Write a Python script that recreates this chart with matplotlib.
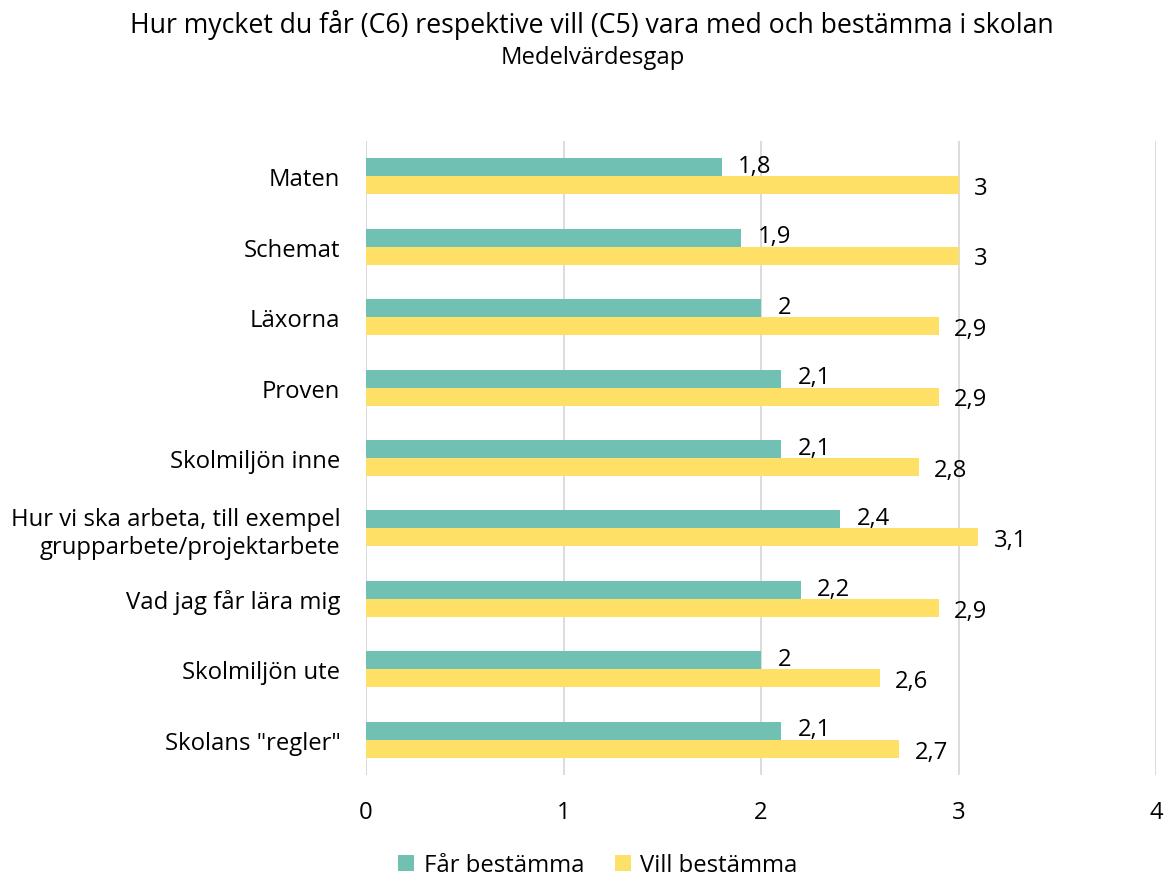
import matplotlib
matplotlib.use("Agg")
import matplotlib.pyplot as plt
import numpy as np

plt.rcParams['font.family'] = ['Open Sans', 'DejaVu Sans']

categories = ["Maten", "Schemat", "Läxorna", "Proven", "Skolmiljön inne",
              "Hur vi ska arbeta, till exempel\ngrupparbete/projektarbete",
              "Vad jag får lära mig", "Skolmiljön ute", 'Skolans "regler"']
far_bestamma = [1.8, 1.9, 2.0, 2.1, 2.1, 2.4, 2.2, 2.0, 2.1]
vill_bestamma = [3.0, 3.0, 2.9, 2.9, 2.8, 3.1, 2.9, 2.6, 2.7]
xticks = [0, 1, 2, 3, 4]

teal = "#70C1B3"
yellow = "#FFE066"
fs = 17.2

fig = plt.figure(figsize=(11.68, 8.79), dpi=100)
ax = fig.add_axes([366/1168, 1-776/879, (1156-366)/1168, (776-142)/879])

n = len(categories)
y = np.arange(n)[::-1].astype(float)
h = 0.255
ax.barh(y + h/2, far_bestamma, height=h, color=teal, label="Får bestämma", zorder=3)
ax.barh(y - h/2, vill_bestamma, height=h, color=yellow, label="Vill bestämma", zorder=3)

def fmt(v):
    s = f"{v:g}"
    return s.replace(".", ",")

for yi, v in zip(y, far_bestamma):
    ax.annotate(fmt(v), (v, yi + h/2), xytext=(12, 1), textcoords="offset points",
                ha="left", va="center", fontsize=fs, color="#000000")
for yi, v in zip(y, vill_bestamma):
    ax.annotate(fmt(v), (v, yi - h/2), xytext=(11, -2), textcoords="offset points",
                ha="left", va="center", fontsize=fs, color="#000000")

ax.set_xlim(0, 4)
ax.set_ylim(-0.5, n - 0.5)
ax.set_xticks(xticks)
ax.set_xticklabels([str(t) for t in xticks], fontsize=fs)
ax.set_yticks(y)
ax.set_yticklabels(categories, fontsize=fs)
ax.tick_params(axis='both', length=0)
ax.tick_params(axis='x', pad=18)
ax.tick_params(axis='y', pad=18.5)
ax.grid(axis='x', color="#d9d9d9", linewidth=1.3, zorder=0)
for s in ax.spines.values():
    s.set_visible(False)
ax.axvline(0, color="#d9d9d9", linewidth=1.3, zorder=0)

fig.text(592/1168, 1-25/879, "Hur mycket du får (C6) respektive vill (C5) vara med och bestämma i skolan",
         ha="center", va="center", fontsize=19.2)
fig.text(593/1168, 1-58/879, "Medelvärdesgap", ha="center", va="center", fontsize=17.2)

leg = fig.legend(loc="center", bbox_to_anchor=(598/1168, 1-866/879), ncol=2, frameon=False,
                 fontsize=fs, handlelength=0.65, handleheight=0.65, columnspacing=1.3,
                 handletextpad=0.4)

fig.savefig("out.png", dpi=100)
